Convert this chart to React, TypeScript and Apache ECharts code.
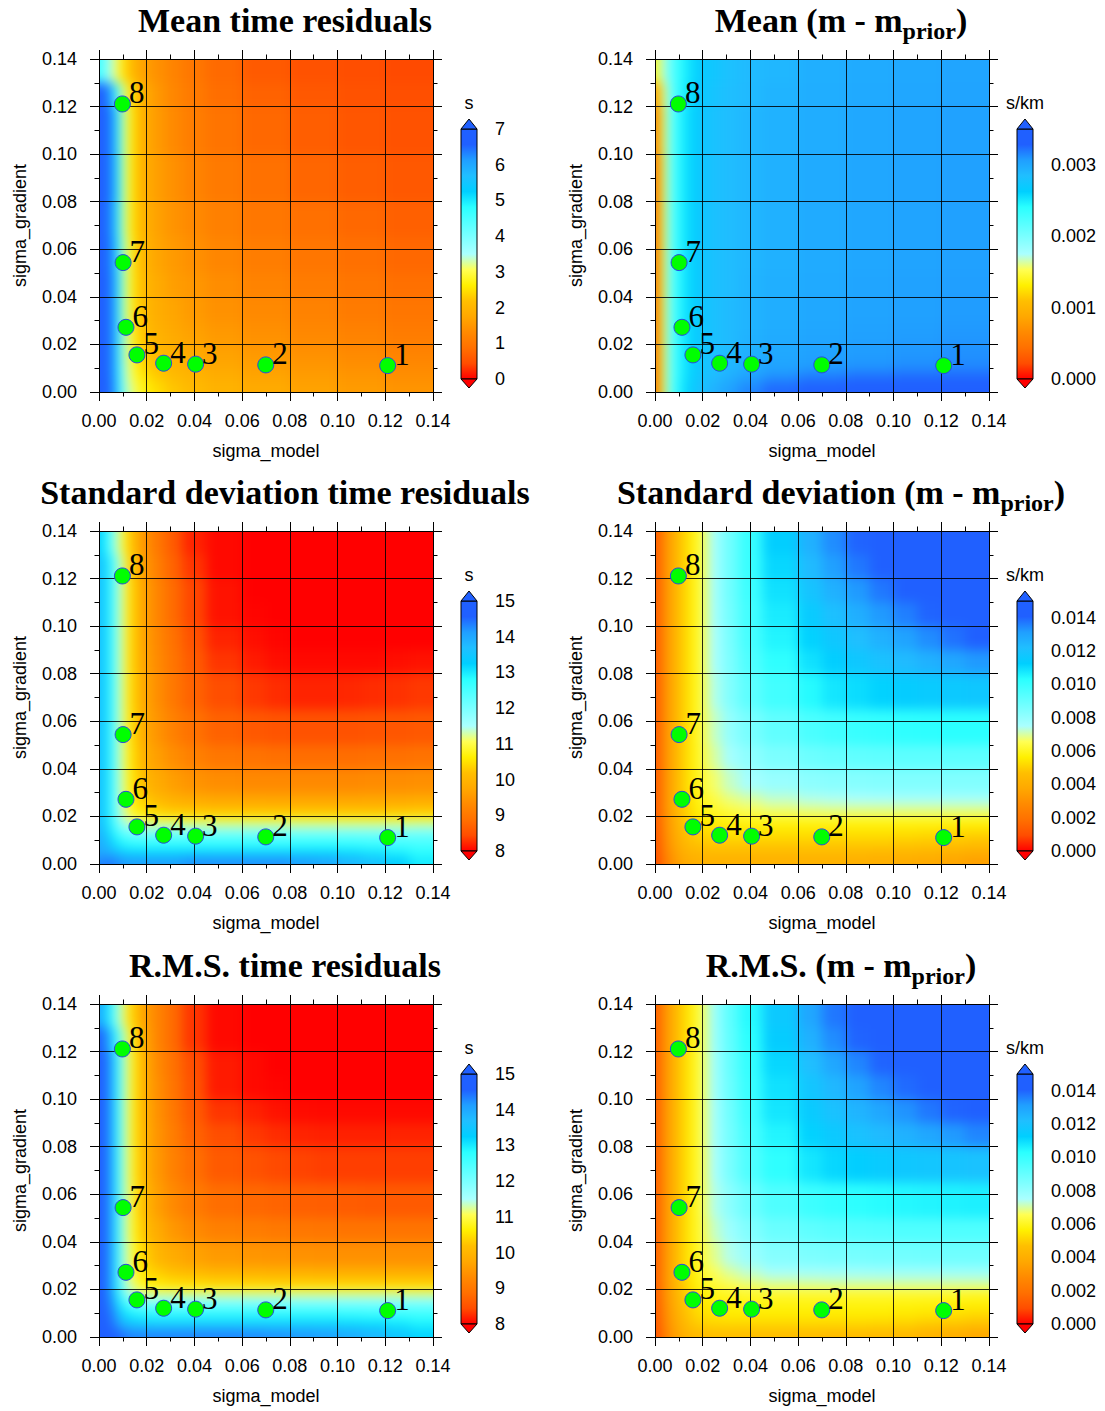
import React, { useEffect, useRef } from 'react';
import * as echarts from 'echarts';

// ---------- data ----------
// cell edges of the sampled grids (sigma_model along x, sigma_gradient along y listed top -> bottom)
const xEdgesCoarse = [0, 0.002, 0.004, 0.006, 0.008, 0.010, 0.012, 0.015, 0.018, 0.022, 0.028, 0.035, 0.045, 0.06, 0.08, 0.10, 0.12, 0.14];
const yEdgesCoarse = [0.14, 0.13, 0.12, 0.10, 0.08, 0.065, 0.05, 0.04, 0.03, 0.025, 0.021, 0.018, 0.015, 0.012, 0.009, 0.006, 0.003, 0];
const xEdgesFine = [0, 0.002, 0.004, 0.006, 0.008, 0.010, 0.012, 0.015, 0.018, 0.022, 0.028, 0.035, 0.045, 0.06, 0.07, 0.08, 0.09, 0.10, 0.11, 0.12, 0.13, 0.14];
const yEdgesFine = [0.14, 0.13, 0.12, 0.11, 0.10, 0.09, 0.08, 0.065, 0.05, 0.04, 0.03, 0.025, 0.021, 0.018, 0.015, 0.012, 0.009, 0.006, 0.003, 0];

// Mean time residuals (s) — coarse grid
const meanTime = [
  [4.6, 3.9, 3.5, 3.1, 2.8, 2.4, 2.1, 1.8, 1.6, 1.4, 1.2, 1.0, 0.8, 0.6, 0.5, 0.45, 0.42],
  [7.0, 6.8, 6.0, 4.8, 3.8, 3.0, 2.5, 2.1, 1.8, 1.5, 1.25, 1.05, 0.85, 0.7, 0.58, 0.5, 0.46],
  [7.0, 7.0, 6.4, 5.2, 4.1, 3.2, 2.6, 2.1, 1.8, 1.55, 1.3, 1.1, 0.95, 0.78, 0.65, 0.55, 0.5],
  [7.0, 7.0, 6.4, 5.3, 4.2, 3.2, 2.6, 2.1, 1.85, 1.6, 1.4, 1.2, 1.05, 0.9, 0.75, 0.65, 0.58],
  [7.0, 7.0, 6.3, 5.2, 4.1, 3.2, 2.6, 2.15, 1.9, 1.65, 1.45, 1.3, 1.15, 1.0, 0.88, 0.77, 0.68],
  [7.0, 7.0, 6.4, 5.3, 4.2, 3.3, 2.7, 2.2, 1.95, 1.7, 1.55, 1.4, 1.25, 1.1, 0.98, 0.87, 0.78],
  [7.0, 7.0, 6.5, 5.4, 4.3, 3.3, 2.7, 2.25, 2.0, 1.8, 1.6, 1.5, 1.35, 1.2, 1.08, 0.97, 0.88],
  [7.0, 7.0, 6.5, 5.4, 4.3, 3.3, 2.75, 2.3, 2.05, 1.85, 1.7, 1.55, 1.42, 1.3, 1.17, 1.06, 0.97],
  [7.0, 7.0, 6.5, 5.4, 4.3, 3.4, 2.8, 2.35, 2.1, 1.9, 1.75, 1.62, 1.5, 1.37, 1.25, 1.14, 1.05],
  [7.0, 7.0, 6.5, 5.4, 4.3, 3.4, 2.8, 2.4, 2.15, 1.95, 1.8, 1.68, 1.55, 1.42, 1.3, 1.2, 1.1],
  [7.0, 7.0, 6.5, 5.4, 4.3, 3.4, 2.85, 2.45, 2.2, 2.0, 1.85, 1.72, 1.6, 1.47, 1.35, 1.25, 1.15],
  [7.0, 7.0, 6.5, 5.4, 4.3, 3.4, 2.9, 2.5, 2.25, 2.05, 1.9, 1.77, 1.65, 1.52, 1.4, 1.3, 1.2],
  [7.0, 7.0, 6.5, 5.4, 4.3, 3.4, 2.9, 2.55, 2.3, 2.1, 1.95, 1.82, 1.7, 1.57, 1.45, 1.35, 1.25],
  [7.0, 7.0, 6.5, 5.4, 4.3, 3.5, 3.0, 2.6, 2.35, 2.15, 2.0, 1.87, 1.75, 1.62, 1.5, 1.4, 1.3],
  [7.0, 7.0, 6.5, 5.4, 4.4, 3.5, 3.0, 2.7, 2.45, 2.25, 2.08, 1.95, 1.82, 1.68, 1.56, 1.46, 1.36],
  [7.0, 7.0, 6.6, 5.5, 4.4, 3.6, 3.1, 2.8, 2.55, 2.35, 2.17, 2.02, 1.9, 1.75, 1.62, 1.52, 1.42],
  [7.0, 7.0, 6.6, 5.6, 4.5, 3.7, 3.2, 2.9, 2.65, 2.45, 2.25, 2.1, 1.95, 1.8, 1.68, 1.58, 1.48],
];

// Mean (m - m_prior), in units of 0.001 s/km — coarse grid
const meanModelMilli = [
  [1.4, 1.7, 1.95, 2.15, 2.3, 2.4, 2.5, 2.6, 2.68, 2.75, 2.82, 2.87, 2.9, 2.95, 2.98, 3.0, 3.02],
  [0.8, 1.45, 1.85, 2.12, 2.3, 2.42, 2.52, 2.62, 2.7, 2.78, 2.84, 2.88, 2.92, 2.96, 2.99, 3.01, 3.03],
  [0.6, 1.35, 1.85, 2.14, 2.32, 2.44, 2.55, 2.64, 2.72, 2.8, 2.85, 2.9, 2.93, 2.97, 3.0, 3.02, 3.04],
  [0.5, 1.3, 1.85, 2.15, 2.33, 2.45, 2.56, 2.65, 2.73, 2.81, 2.86, 2.9, 2.94, 2.98, 3.01, 3.03, 3.05],
  [0.5, 1.3, 1.85, 2.15, 2.33, 2.45, 2.56, 2.65, 2.73, 2.81, 2.86, 2.9, 2.94, 2.98, 3.01, 3.03, 3.05],
  [0.5, 1.3, 1.85, 2.15, 2.33, 2.45, 2.56, 2.65, 2.73, 2.81, 2.86, 2.9, 2.94, 2.98, 3.01, 3.03, 3.05],
  [0.5, 1.3, 1.85, 2.15, 2.33, 2.45, 2.56, 2.65, 2.73, 2.81, 2.86, 2.91, 2.95, 2.99, 3.02, 3.04, 3.06],
  [0.5, 1.3, 1.85, 2.15, 2.33, 2.45, 2.56, 2.65, 2.73, 2.81, 2.87, 2.92, 2.96, 3.0, 3.03, 3.05, 3.07],
  [0.5, 1.3, 1.85, 2.15, 2.33, 2.45, 2.56, 2.65, 2.73, 2.81, 2.87, 2.92, 2.97, 3.01, 3.04, 3.06, 3.08],
  [0.5, 1.3, 1.85, 2.15, 2.33, 2.45, 2.56, 2.65, 2.73, 2.81, 2.87, 2.93, 2.98, 3.02, 3.05, 3.07, 3.09],
  [0.5, 1.3, 1.85, 2.15, 2.33, 2.45, 2.56, 2.65, 2.73, 2.82, 2.88, 2.94, 2.99, 3.03, 3.06, 3.08, 3.1],
  [0.5, 1.3, 1.85, 2.15, 2.33, 2.45, 2.56, 2.65, 2.73, 2.82, 2.88, 2.94, 3.0, 3.04, 3.07, 3.09, 3.11],
  [0.5, 1.3, 1.85, 2.15, 2.33, 2.45, 2.56, 2.65, 2.74, 2.83, 2.89, 2.95, 3.01, 3.05, 3.08, 3.1, 3.12],
  [0.5, 1.3, 1.85, 2.15, 2.33, 2.45, 2.56, 2.65, 2.74, 2.83, 2.9, 2.97, 3.03, 3.07, 3.1, 3.12, 3.14],
  [0.5, 1.3, 1.85, 2.15, 2.33, 2.45, 2.57, 2.66, 2.76, 2.85, 2.93, 3.01, 3.08, 3.14, 3.18, 3.21, 3.23],
  [0.5, 1.3, 1.85, 2.15, 2.34, 2.46, 2.59, 2.69, 2.79, 2.89, 2.99, 3.08, 3.17, 3.24, 3.29, 3.32, 3.34],
  [0.5, 1.3, 1.85, 2.16, 2.35, 2.48, 2.61, 2.72, 2.83, 2.94, 3.05, 3.15, 3.25, 3.33, 3.39, 3.43, 3.46],
];

// Standard deviation time residuals (s) — fine grid
const stdTime = [
  [13.3, 12.8, 12.2, 11.6, 11.1, 10.7, 10.2, 9.8, 9.4, 9.0, 8.6, 8.2, 8.05, 8.0, 8.0, 8.0, 8.0, 8.0, 8.0, 8.0, 8.0],
  [13.6, 13.2, 12.6, 12.0, 11.4, 10.9, 10.3, 9.9, 9.5, 9.1, 8.7, 8.3, 8.05, 8.0, 8.0, 8.0, 8.0, 8.0, 8.0, 8.0, 8.0],
  [13.6, 13.2, 12.6, 12.0, 11.4, 10.9, 10.4, 10.0, 9.6, 9.2, 8.8, 8.4, 8.1, 8.0, 8.0, 8.0, 8.0, 8.0, 8.0, 8.0, 8.0],
  [13.6, 13.2, 12.6, 12.0, 11.4, 10.9, 10.4, 10.0, 9.6, 9.2, 8.8, 8.4, 8.1, 8.02, 8.0, 8.0, 8.0, 8.0, 8.0, 8.0, 8.0],
  [13.6, 13.2, 12.6, 12.0, 11.4, 10.9, 10.4, 10.0, 9.6, 9.25, 8.9, 8.5, 8.2, 8.08, 8.03, 8.0, 8.0, 8.0, 8.0, 8.0, 8.0],
  [13.6, 13.2, 12.6, 12.0, 11.4, 10.9, 10.4, 10.0, 9.65, 9.3, 8.95, 8.6, 8.3, 8.15, 8.08, 8.05, 8.05, 8.05, 8.05, 8.08, 8.1],
  [13.6, 13.2, 12.6, 12.0, 11.4, 10.9, 10.45, 10.05, 9.7, 9.35, 9.0, 8.7, 8.45, 8.32, 8.25, 8.2, 8.2, 8.22, 8.25, 8.28, 8.32],
  [13.6, 13.2, 12.6, 12.0, 11.4, 10.9, 10.5, 10.1, 9.75, 9.45, 9.15, 8.9, 8.7, 8.58, 8.52, 8.5, 8.5, 8.5, 8.52, 8.55, 8.58],
  [13.6, 13.2, 12.6, 12.0, 11.4, 10.95, 10.55, 10.2, 9.85, 9.6, 9.35, 9.15, 9.0, 8.92, 8.88, 8.85, 8.85, 8.85, 8.87, 8.9, 8.93],
  [13.6, 13.2, 12.6, 12.0, 11.45, 11.0, 10.6, 10.3, 10.0, 9.8, 9.6, 9.45, 9.35, 9.3, 9.3, 9.3, 9.3, 9.3, 9.32, 9.35, 9.38],
  [13.6, 13.2, 12.6, 12.0, 11.5, 11.05, 10.7, 10.45, 10.25, 10.05, 9.9, 9.8, 9.75, 9.72, 9.7, 9.7, 9.7, 9.7, 9.72, 9.75, 9.78],
  [13.6, 13.2, 12.6, 12.05, 11.55, 11.1, 10.8, 10.6, 10.45, 10.3, 10.2, 10.15, 10.1, 10.1, 10.1, 10.1, 10.1, 10.1, 10.1, 10.15, 10.18],
  [13.6, 13.2, 12.7, 12.1, 11.65, 11.25, 11.0, 10.85, 10.75, 10.7, 10.65, 10.62, 10.6, 10.6, 10.6, 10.6, 10.6, 10.6, 10.6, 10.65, 10.68],
  [13.7, 13.3, 12.8, 12.3, 11.9, 11.6, 11.45, 11.35, 11.3, 11.3, 11.3, 11.3, 11.3, 11.3, 11.3, 11.3, 11.3, 11.3, 11.3, 11.32, 11.35],
  [13.8, 13.4, 13.0, 12.6, 12.3, 12.1, 12.0, 11.95, 11.95, 11.95, 11.95, 11.95, 11.95, 11.95, 11.95, 11.95, 11.95, 11.95, 11.95, 11.97, 12.0],
  [13.9, 13.6, 13.2, 12.9, 12.7, 12.55, 12.5, 12.45, 12.45, 12.45, 12.45, 12.45, 12.45, 12.45, 12.45, 12.45, 12.45, 12.45, 12.42, 12.38, 12.35],
  [14.0, 13.8, 13.5, 13.2, 13.0, 12.9, 12.85, 12.8, 12.8, 12.8, 12.8, 12.8, 12.8, 12.8, 12.8, 12.8, 12.8, 12.75, 12.7, 12.65, 12.6],
  [13.9, 13.9, 13.8, 13.6, 13.5, 13.4, 13.35, 13.3, 13.3, 13.3, 13.3, 13.35, 13.4, 13.4, 13.4, 13.35, 13.3, 13.2, 13.1, 12.95, 12.8],
  [14.3, 14.4, 14.4, 14.3, 14.2, 14.1, 14.1, 14.1, 14.1, 14.1, 14.1, 14.2, 14.2, 14.2, 14.2, 14.1, 14.0, 13.8, 13.6, 13.3, 13.0],
];

// Standard deviation (m - m_prior), in units of 0.001 s/km — fine grid
const stdModelMilli = [
  [1.2, 2.6, 3.3, 3.8, 4.3, 4.8, 5.3, 5.8, 6.5, 7.6, 8.8, 10.0, 11.3, 12.6, 13.4, 14.0, 14.4, 14.5, 14.5, 14.5, 14.5],
  [1.2, 2.6, 3.3, 3.8, 4.3, 4.8, 5.3, 5.8, 6.5, 7.6, 8.8, 10.0, 11.1, 12.3, 13.1, 13.7, 14.2, 14.4, 14.5, 14.5, 14.5],
  [1.2, 2.6, 3.3, 3.8, 4.3, 4.8, 5.3, 5.8, 6.5, 7.6, 8.8, 9.9, 10.9, 11.9, 12.6, 13.2, 13.7, 14.1, 14.4, 14.5, 14.5],
  [1.2, 2.6, 3.3, 3.8, 4.3, 4.8, 5.3, 5.8, 6.5, 7.6, 8.7, 9.8, 10.7, 11.5, 12.1, 12.7, 13.2, 13.6, 14.0, 14.3, 14.5],
  [1.2, 2.6, 3.3, 3.8, 4.3, 4.8, 5.3, 5.8, 6.5, 7.5, 8.6, 9.7, 10.5, 11.2, 11.7, 12.2, 12.6, 13.0, 13.4, 13.8, 14.1],
  [1.2, 2.6, 3.3, 3.8, 4.3, 4.8, 5.3, 5.8, 6.5, 7.5, 8.5, 9.5, 10.2, 10.9, 11.3, 11.7, 12.0, 12.3, 12.6, 12.9, 13.2],
  [1.2, 2.6, 3.3, 3.8, 4.3, 4.8, 5.3, 5.8, 6.4, 7.4, 8.4, 9.2, 9.8, 10.4, 10.8, 11.0, 11.2, 11.4, 11.5, 11.6, 11.7],
  [1.2, 2.6, 3.3, 3.8, 4.3, 4.8, 5.3, 5.8, 6.4, 7.2, 8.0, 8.6, 9.1, 9.6, 9.8, 10.0, 10.1, 10.2, 10.25, 10.3, 10.3],
  [1.2, 2.6, 3.3, 3.8, 4.3, 4.8, 5.3, 5.8, 6.3, 7.0, 7.6, 8.1, 8.5, 8.85, 9.0, 9.1, 9.15, 9.2, 9.2, 9.2, 9.2],
  [1.2, 2.6, 3.3, 3.8, 4.3, 4.8, 5.3, 5.7, 6.2, 6.7, 7.2, 7.6, 7.9, 8.15, 8.25, 8.3, 8.35, 8.4, 8.4, 8.4, 8.4],
  [1.2, 2.6, 3.3, 3.8, 4.3, 4.8, 5.2, 5.6, 6.0, 6.4, 6.8, 7.0, 7.25, 7.4, 7.45, 7.5, 7.55, 7.6, 7.6, 7.6, 7.6],
  [1.2, 2.6, 3.3, 3.8, 4.3, 4.7, 5.1, 5.5, 5.8, 6.1, 6.4, 6.6, 6.75, 6.85, 6.9, 6.9, 6.9, 6.9, 6.9, 6.9, 6.9],
  [1.2, 2.5, 3.2, 3.7, 4.2, 4.6, 5.0, 5.4, 5.6, 5.8, 6.0, 6.1, 6.15, 6.2, 6.2, 6.2, 6.2, 6.2, 6.2, 6.15, 6.1],
  [1.2, 2.5, 3.2, 3.7, 4.1, 4.5, 4.9, 5.2, 5.4, 5.5, 5.6, 5.7, 5.7, 5.7, 5.7, 5.7, 5.7, 5.7, 5.7, 5.65, 5.6],
  [1.1, 2.4, 3.1, 3.6, 4.0, 4.4, 4.8, 5.0, 5.2, 5.3, 5.4, 5.4, 5.4, 5.4, 5.4, 5.4, 5.4, 5.35, 5.3, 5.25, 5.2],
  [1.1, 2.4, 3.0, 3.5, 3.9, 4.3, 4.6, 4.8, 5.0, 5.1, 5.1, 5.1, 5.1, 5.1, 5.1, 5.1, 5.1, 5.05, 5.0, 4.9, 4.8],
  [1.0, 2.3, 2.9, 3.4, 3.8, 4.1, 4.4, 4.6, 4.7, 4.8, 4.8, 4.8, 4.8, 4.8, 4.8, 4.8, 4.8, 4.75, 4.7, 4.6, 4.5],
  [1.0, 2.2, 2.8, 3.2, 3.6, 3.9, 4.2, 4.3, 4.4, 4.4, 4.4, 4.4, 4.4, 4.4, 4.4, 4.35, 4.3, 4.25, 4.2, 4.05, 3.9],
  [0.9, 2.0, 2.6, 3.0, 3.4, 3.7, 3.9, 4.0, 4.1, 4.1, 4.1, 4.1, 4.1, 4.1, 4.1, 4.05, 4.0, 3.9, 3.8, 3.65, 3.5],
];

// R.M.S. time residuals (s) — fine grid
const rmsTime = [
  [14.0, 13.3, 12.6, 12.0, 11.4, 10.9, 10.4, 10.0, 9.6, 9.2, 8.8, 8.3, 8.05, 8.0, 8.0, 8.0, 8.0, 8.0, 8.0, 8.0, 8.0],
  [14.6, 14.3, 13.6, 12.8, 12.0, 11.3, 10.7, 10.2, 9.7, 9.2, 8.8, 8.3, 8.05, 8.0, 8.0, 8.0, 8.0, 8.0, 8.0, 8.0, 8.0],
  [14.8, 14.6, 14.0, 13.0, 12.1, 11.4, 10.8, 10.3, 9.8, 9.3, 8.9, 8.45, 8.15, 8.05, 8.0, 8.0, 8.0, 8.0, 8.0, 8.0, 8.0],
  [14.8, 14.6, 14.0, 13.0, 12.1, 11.4, 10.8, 10.3, 9.8, 9.35, 8.95, 8.5, 8.15, 8.05, 8.02, 8.0, 8.0, 8.0, 8.0, 8.0, 8.0],
  [14.8, 14.6, 14.0, 13.0, 12.1, 11.4, 10.8, 10.3, 9.85, 9.4, 9.0, 8.6, 8.3, 8.18, 8.1, 8.06, 8.05, 8.05, 8.05, 8.05, 8.05],
  [14.8, 14.6, 14.0, 13.0, 12.1, 11.4, 10.8, 10.3, 9.88, 9.45, 9.08, 8.7, 8.45, 8.32, 8.25, 8.2, 8.18, 8.18, 8.18, 8.2, 8.2],
  [14.8, 14.6, 14.0, 13.0, 12.1, 11.4, 10.85, 10.35, 9.9, 9.5, 9.15, 8.85, 8.6, 8.5, 8.42, 8.38, 8.35, 8.35, 8.35, 8.35, 8.35],
  [14.8, 14.6, 14.0, 13.0, 12.1, 11.4, 10.9, 10.4, 10.0, 9.6, 9.3, 9.05, 8.85, 8.78, 8.72, 8.68, 8.65, 8.62, 8.6, 8.6, 8.6],
  [14.8, 14.6, 14.0, 13.0, 12.1, 11.4, 10.9, 10.5, 10.1, 9.8, 9.5, 9.3, 9.15, 9.08, 9.03, 9.0, 8.97, 8.95, 8.95, 8.95, 8.95],
  [14.8, 14.6, 14.0, 13.0, 12.1, 11.45, 11.0, 10.6, 10.3, 10.0, 9.8, 9.65, 9.55, 9.48, 9.45, 9.42, 9.4, 9.4, 9.4, 9.4, 9.4],
  [14.8, 14.6, 14.0, 13.0, 12.15, 11.5, 11.05, 10.7, 10.45, 10.3, 10.15, 10.05, 9.95, 9.92, 9.9, 9.88, 9.86, 9.85, 9.85, 9.85, 9.85],
  [14.8, 14.6, 14.0, 13.0, 12.2, 11.6, 11.15, 10.85, 10.65, 10.55, 10.45, 10.4, 10.35, 10.32, 10.3, 10.3, 10.3, 10.3, 10.3, 10.3, 10.3],
  [14.8, 14.6, 14.0, 13.1, 12.3, 11.7, 11.35, 11.1, 10.95, 10.9, 10.85, 10.8, 10.8, 10.8, 10.8, 10.8, 10.8, 10.8, 10.8, 10.8, 10.8],
  [14.8, 14.6, 14.1, 13.3, 12.6, 12.1, 11.8, 11.65, 11.55, 11.5, 11.5, 11.5, 11.5, 11.5, 11.5, 11.5, 11.5, 11.5, 11.5, 11.5, 11.5],
  [14.8, 14.7, 14.3, 13.6, 13.0, 12.6, 12.35, 12.2, 12.15, 12.1, 12.1, 12.1, 12.1, 12.1, 12.1, 12.1, 12.1, 12.1, 12.1, 12.1, 12.1],
  [14.8, 14.7, 14.4, 13.9, 13.4, 13.0, 12.8, 12.7, 12.65, 12.6, 12.6, 12.6, 12.6, 12.6, 12.6, 12.6, 12.6, 12.58, 12.55, 12.52, 12.5],
  [14.8, 14.7, 14.5, 14.1, 13.7, 13.4, 13.2, 13.1, 13.05, 13.0, 13.0, 13.0, 13.0, 13.0, 13.0, 13.0, 13.0, 12.95, 12.9, 12.85, 12.8],
  [14.8, 14.8, 14.6, 14.3, 14.0, 13.8, 13.7, 13.6, 13.6, 13.6, 13.6, 13.6, 13.6, 13.57, 13.55, 13.52, 13.5, 13.4, 13.3, 13.15, 13.0],
  [14.8, 14.8, 14.8, 14.6, 14.5, 14.4, 14.3, 14.3, 14.3, 14.3, 14.3, 14.3, 14.3, 14.25, 14.2, 14.15, 14.1, 13.95, 13.8, 13.5, 13.2],
];

// R.M.S. (m - m_prior), in units of 0.001 s/km — fine grid
const rmsModelMilli = [
  [1.3, 2.7, 3.4, 3.9, 4.4, 4.9, 5.4, 5.9, 6.6, 7.8, 9.2, 10.4, 11.6, 12.9, 13.7, 14.3, 14.6, 14.7, 14.7, 14.7, 14.7],
  [1.3, 2.7, 3.4, 3.9, 4.4, 4.9, 5.4, 5.9, 6.6, 7.8, 9.1, 10.3, 11.4, 12.6, 13.4, 14.0, 14.4, 14.6, 14.7, 14.7, 14.7],
  [1.3, 2.7, 3.4, 3.9, 4.4, 4.9, 5.4, 5.9, 6.6, 7.7, 9.0, 10.1, 11.1, 12.2, 12.9, 13.5, 14.0, 14.4, 14.6, 14.7, 14.7],
  [1.3, 2.7, 3.4, 3.9, 4.4, 4.9, 5.4, 5.9, 6.6, 7.7, 8.9, 10.0, 10.9, 11.8, 12.4, 13.0, 13.5, 13.9, 14.2, 14.5, 14.6],
  [1.3, 2.7, 3.4, 3.9, 4.4, 4.9, 5.4, 5.9, 6.6, 7.6, 8.8, 9.9, 10.8, 11.5, 12.0, 12.5, 12.9, 13.3, 13.7, 14.0, 14.3],
  [1.3, 2.7, 3.4, 3.9, 4.4, 4.9, 5.4, 5.9, 6.6, 7.6, 8.7, 9.7, 10.5, 11.2, 11.6, 12.0, 12.3, 12.6, 12.9, 13.2, 13.5],
  [1.3, 2.7, 3.4, 3.9, 4.4, 4.9, 5.4, 5.9, 6.5, 7.5, 8.6, 9.5, 10.2, 10.8, 11.1, 11.3, 11.5, 11.7, 11.8, 11.9, 12.0],
  [1.3, 2.7, 3.4, 3.9, 4.4, 4.9, 5.4, 5.9, 6.5, 7.4, 8.2, 8.9, 9.5, 9.9, 10.1, 10.25, 10.35, 10.45, 10.5, 10.55, 10.6],
  [1.3, 2.7, 3.4, 3.9, 4.4, 4.9, 5.4, 5.9, 6.4, 7.2, 7.8, 8.4, 8.9, 9.15, 9.3, 9.4, 9.45, 9.5, 9.5, 9.5, 9.5],
  [1.3, 2.7, 3.4, 3.9, 4.4, 4.9, 5.4, 5.8, 6.3, 6.9, 7.4, 7.9, 8.3, 8.5, 8.6, 8.65, 8.7, 8.75, 8.8, 8.8, 8.8],
  [1.3, 2.7, 3.4, 3.9, 4.4, 4.9, 5.3, 5.7, 6.2, 6.6, 7.0, 7.3, 7.6, 7.7, 7.72, 7.75, 7.8, 7.8, 7.8, 7.8, 7.8],
  [1.3, 2.7, 3.4, 3.9, 4.4, 4.8, 5.2, 5.6, 6.0, 6.3, 6.6, 6.8, 7.0, 7.05, 7.1, 7.1, 7.1, 7.1, 7.1, 7.1, 7.1],
  [1.3, 2.6, 3.3, 3.8, 4.3, 4.7, 5.1, 5.5, 5.8, 6.0, 6.2, 6.3, 6.4, 6.4, 6.4, 6.4, 6.4, 6.4, 6.4, 6.35, 6.3],
  [1.3, 2.6, 3.3, 3.8, 4.2, 4.6, 5.0, 5.4, 5.6, 5.8, 5.9, 6.0, 6.0, 6.0, 6.0, 6.0, 6.0, 6.0, 6.0, 5.95, 5.9],
  [1.2, 2.5, 3.2, 3.7, 4.1, 4.5, 4.9, 5.2, 5.5, 5.6, 5.7, 5.8, 5.8, 5.8, 5.8, 5.8, 5.8, 5.75, 5.7, 5.65, 5.6],
  [1.2, 2.5, 3.1, 3.6, 4.0, 4.4, 4.8, 5.1, 5.4, 5.5, 5.6, 5.6, 5.6, 5.6, 5.6, 5.6, 5.6, 5.55, 5.5, 5.4, 5.3],
  [1.1, 2.4, 3.0, 3.5, 3.9, 4.3, 4.7, 5.0, 5.2, 5.3, 5.4, 5.4, 5.4, 5.4, 5.4, 5.4, 5.35, 5.3, 5.2, 5.1, 5.0],
  [1.1, 2.3, 2.9, 3.4, 3.8, 4.1, 4.5, 4.8, 4.9, 5.0, 5.0, 5.0, 5.0, 5.0, 5.0, 5.0, 4.95, 4.9, 4.7, 4.55, 4.4],
  [1.0, 2.1, 2.7, 3.2, 3.6, 3.9, 4.2, 4.4, 4.5, 4.6, 4.6, 4.6, 4.6, 4.55, 4.5, 4.5, 4.45, 4.4, 4.2, 4.0, 3.8],
];

// marked parameter pairs
const sigmaModel = [0.121, 0.0699, 0.0405, 0.0271, 0.0159, 0.0113, 0.0101, 0.0098];
const sigmaGradient = [0.0111, 0.0114, 0.0117, 0.0121, 0.0156, 0.0272, 0.0544, 0.1211];
const pointLabels = ['1', '2', '3', '4', '5', '6', '7', '8'];

// colour-bar ranges and tick labels
const rangeMeanTime = [0, 7];
const rangeMeanModel = [0, 0.0035];
const rangeStdTime = [8, 15];
const rangeModelSpread = [0, 0.015];
const ticksMeanTime = [0, 1, 2, 3, 4, 5, 6, 7];
const ticksMeanModel = [0, 0.001, 0.002, 0.003];
const ticksTimeSpread = [8, 9, 10, 11, 12, 13, 14, 15];
const ticksModelSpread = [0, 0.002, 0.004, 0.006, 0.008, 0.010, 0.012, 0.014];

const axisTicks = [0, 0.02, 0.04, 0.06, 0.08, 0.10, 0.12, 0.14];

// ---------- styling / layout ----------
const W = 1105;
const H = 1411;
const colX = [99, 655];
const rowY = [59, 531, 1004];
const plotW = 334;
const plotH = 333;
const cbDX = 362;
const cbDY = 70;
const cbW = 16;
const cbH = 250;
const SANS = 'Liberation Sans';
const SERIF = 'Liberation Serif';

const cmap = ['#ff0000', '#ff4d00', '#ff7000', '#ff8a00', '#ffa800', '#ffbf00', '#fff000', '#ffff54',
  '#aaffff', '#7fffff', '#55ffff', '#2affff', '#00cfff', '#20bfff', '#209fff', '#2060ff', '#2060ff'];
const gradStops = cmap.map((c, i) => ({ offset: i / (cmap.length - 1), color: c }));

const panels = [
  { title: ['Mean time residuals', '', ''], unit: 's', matrix: meanTime, xe: xEdgesCoarse, ye: yEdgesCoarse, scale: 1, range: rangeMeanTime, ticks: ticksMeanTime, dec: 0 },
  { title: ['Mean (m - m', 'prior', ')'], unit: 's/km', matrix: meanModelMilli, xe: xEdgesCoarse, ye: yEdgesCoarse, scale: 1000, range: rangeMeanModel, ticks: ticksMeanModel, dec: 3 },
  { title: ['Standard deviation time residuals', '', ''], unit: 's', matrix: stdTime, xe: xEdgesFine, ye: yEdgesFine, scale: 1, range: rangeStdTime, ticks: ticksTimeSpread, dec: 0 },
  { title: ['Standard deviation (m - m', 'prior', ')'], unit: 's/km', matrix: stdModelMilli, xe: xEdgesFine, ye: yEdgesFine, scale: 1000, range: rangeModelSpread, ticks: ticksModelSpread, dec: 3 },
  { title: ['R.M.S. time residuals', '', ''], unit: 's', matrix: rmsTime, xe: xEdgesFine, ye: yEdgesFine, scale: 1, range: rangeStdTime, ticks: ticksTimeSpread, dec: 0 },
  { title: ['R.M.S. (m - m', 'prior', ')'], unit: 's/km', matrix: rmsModelMilli, xe: xEdgesFine, ye: yEdgesFine, scale: 1000, range: rangeModelSpread, ticks: ticksModelSpread, dec: 3 },
];

const panelPos = (i: number) => ({ left: colX[i % 2], top: rowY[Math.floor(i / 2)] });

const X_MIN = 0;
const X_MAX = 0.14;
const Y_MIN = 0;
const Y_MAX = 0.14;

function cellData(matrix: number[][], xe: number[], ye: number[], scale: number) {
  const out: number[][] = [];
  for (let r = 0; r < ye.length - 1; r++) {
    for (let c = 0; c < xe.length - 1; c++) {
      out.push([xe[c], xe[c + 1], ye[r + 1], ye[r], matrix[r][c] / scale]);
    }
  }
  return out;
}

const renderCell = (_params: any, api: any) => {
  const x0 = api.value(0), x1 = api.value(1), y0 = api.value(2), y1 = api.value(3);
  const tl = api.coord([x0, y1]);
  const br = api.coord([x1, y0]);
  let l = tl[0], t = tl[1], r = br[0], b = br[1];
  const ext = 30;
  if (x0 <= X_MIN) l -= ext;
  if (x1 >= X_MAX) r += ext;
  if (y0 <= Y_MIN) b += ext;
  if (y1 >= Y_MAX) t -= ext;
  return {
    type: 'rect',
    shape: { x: l, y: t, width: r - l + 0.8, height: b - t + 0.8 },
    style: { fill: api.visual('color') },
  };
};

const renderBar = (_params: any, api: any) => {
  const tl = api.coord([api.value(0), api.value(3)]);
  const br = api.coord([api.value(2), api.value(1)]);
  const l = tl[0], t = tl[1], r = br[0], b = br[1];
  const cx = (l + r) / 2;
  return {
    type: 'group',
    children: [
      {
        type: 'rect',
        shape: { x: l, y: t, width: r - l, height: b - t },
        style: { fill: { type: 'linear', x: 0, y: 1, x2: 0, y2: 0, colorStops: gradStops }, stroke: '#000', lineWidth: 1 },
      },
      { type: 'polygon', shape: { points: [[l, t], [r, t], [cx, t - 10]] }, style: { fill: cmap[cmap.length - 1], stroke: '#000', lineWidth: 1 } },
      { type: 'polygon', shape: { points: [[l, b], [r, b], [cx, b + 9]] }, style: { fill: cmap[0], stroke: '#000', lineWidth: 1 } },
    ],
  };
};

function heatOption() {
  return {
    animation: false,
    grid: panels.map((_, i) => ({ ...panelPos(i), width: plotW, height: plotH, containLabel: false, outerBoundsMode: 'none' })),
    xAxis: panels.map((_, i) => ({ type: 'value', gridIndex: i, min: X_MIN, max: X_MAX, show: false })),
    yAxis: panels.map((_, i) => ({ type: 'value', gridIndex: i, min: Y_MIN, max: Y_MAX, show: false })),
    visualMap: panels.map((p, i) => ({
      type: 'continuous', show: false, seriesIndex: i, dimension: 4,
      min: p.range[0], max: p.range[1], inRange: { color: cmap },
    })),
    series: panels.map((p, i) => ({
      type: 'custom', xAxisIndex: i, yAxisIndex: i, clip: false,
      encode: { x: [0, 1], y: [2, 3] },
      renderItem: renderCell,
      data: cellData(p.matrix, p.xe, p.ye, p.scale),
    })),
  };
}

function overlayOption() {
  const grids: any[] = [];
  const xAxes: any[] = [];
  const yAxes: any[] = [];
  const series: any[] = [];
  const graphics: any[] = [];
  const lineBlack = { color: '#000', width: 1 };
  const labelStyle = { color: '#000', fontSize: 18, fontFamily: SANS };

  panels.forEach((p, i) => {
    const pos = panelPos(i);
    grids.push({ ...pos, width: plotW, height: plotH, containLabel: false, outerBoundsMode: 'none' });
  });
  panels.forEach((p, i) => {
    const pos = panelPos(i);
    grids.push({ left: pos.left + cbDX, top: pos.top + cbDY, width: cbW, height: cbH, containLabel: false, outerBoundsMode: 'none' });
  });

  const base = (gi: number) => ({
    type: 'value', gridIndex: gi, min: X_MIN, max: X_MAX, interval: 0.02,
    axisLine: { show: true, onZero: false, lineStyle: lineBlack },
    axisTick: { show: true, inside: false, length: 9, lineStyle: lineBlack },
    minorTick: { show: true, splitNumber: 2, length: 4.5, lineStyle: lineBlack },
  });

  panels.forEach((p, i) => {
    xAxes.push({
      ...base(i), position: 'bottom',
      axisLabel: { ...labelStyle, margin: 20, customValues: axisTicks, formatter: (v: number) => v.toFixed(2) },
      splitLine: { show: true, lineStyle: { color: 'rgba(0,0,0,0.85)', width: 1 } },
      name: 'sigma_model', nameLocation: 'middle', nameGap: 50,
      nameTextStyle: { color: '#000', fontSize: 18, fontFamily: SANS },
    });
    xAxes.push({ ...base(i), position: 'top', axisLabel: { show: false }, splitLine: { show: false } });
    yAxes.push({
      ...base(i), min: Y_MIN, max: Y_MAX, position: 'left',
      axisLabel: { ...labelStyle, margin: 22, customValues: axisTicks, formatter: (v: number) => v.toFixed(2) },
      splitLine: { show: true, lineStyle: { color: 'rgba(0,0,0,0.85)', width: 1 } },
      name: 'sigma_gradient', nameLocation: 'middle', nameGap: 70, nameRotate: 90,
      nameTextStyle: { color: '#000', fontSize: 18, fontFamily: SANS },
    });
    yAxes.push({ ...base(i), min: Y_MIN, max: Y_MAX, position: 'right', axisLabel: { show: false }, splitLine: { show: false } });
  });

  panels.forEach((p, i) => {
    xAxes.push({ type: 'value', gridIndex: 6 + i, min: 0, max: 1, show: false });
    yAxes.push({
      type: 'value', gridIndex: 6 + i, min: p.range[0], max: p.range[1], position: 'right',
      axisLine: { show: false },
      axisTick: { show: true, inside: false, length: 8, lineStyle: lineBlack, customValues: p.ticks },
      axisLabel: { ...labelStyle, margin: 18, customValues: p.ticks, formatter: (v: number) => v.toFixed(p.dec) },
      splitLine: { show: false },
    });
  });

  panels.forEach((p, i) => {
    series.push({
      type: 'scatter', xAxisIndex: 2 * i, yAxisIndex: 2 * i, z: 5,
      symbol: 'circle', symbolSize: 16,
      itemStyle: { color: '#00ff00', borderColor: '#2a48e0', borderWidth: 1, opacity: 1 },
      label: {
        show: true, position: 'right', distance: 0, offset: [-2, -11],
        formatter: (d: any) => d.name, color: '#000', fontSize: 31, fontFamily: SERIF,
      },
      data: sigmaModel.map((x, k) => ({ name: pointLabels[k], value: [x, sigmaGradient[k]] })),
    });
  });

  panels.forEach((p, i) => {
    series.push({
      type: 'custom', xAxisIndex: 12 + i, yAxisIndex: 12 + i, clip: false, z: 3,
      encode: { x: [0, 2], y: [1, 3] },
      renderItem: renderBar,
      data: [[0, p.range[0], 1, p.range[1]]],
    });
  });

  panels.forEach((p, i) => {
    const pos = panelPos(i);
    const tx = pos.left + 186;
    const ty = pos.top - 39;
    const [main, sub, tail] = p.title;
    if (sub) {
      graphics.push({
        type: 'text', x: tx, y: ty, z: 10,
        style: {
          text: `{a|${main}}{b|${sub}}{a|${tail}}`,
          align: 'center', verticalAlign: 'middle', fill: '#000',
          rich: {
            a: { fontSize: 34, fontWeight: 'bold', fontFamily: SERIF, fill: '#000' },
            b: { fontSize: 24, fontWeight: 'bold', fontFamily: SERIF, fill: '#000', padding: [22, 0, 0, 0] },
          },
        },
      });
    } else {
      graphics.push({
        type: 'text', x: tx, y: ty, z: 10,
        style: { text: main, align: 'center', verticalAlign: 'middle', fill: '#000', fontSize: 34, fontWeight: 'bold', fontFamily: SERIF },
      });
    }
    graphics.push({
      type: 'text', x: pos.left + cbDX + cbW / 2, y: pos.top + 44, z: 10,
      style: { text: p.unit, align: 'center', verticalAlign: 'middle', fill: '#000', fontSize: 18, fontFamily: SANS },
    });
  });

  return { animation: false, grid: grids, xAxis: xAxes, yAxis: yAxes, series, graphic: graphics };
}

const clipPath = panels
  .map((_, i) => {
    const { left, top } = panelPos(i);
    return `M${left} ${top} H${left + plotW} V${top + plotH} H${left} Z`;
  })
  .join(' ');

export default function App() {
  const heatRef = useRef<HTMLDivElement>(null);
  const overRef = useRef<HTMLDivElement>(null);
  useEffect(() => {
    const h = echarts.init(heatRef.current as HTMLDivElement, null, { renderer: 'svg' });
    const o = echarts.init(overRef.current as HTMLDivElement, null, { renderer: 'svg' });
    h.setOption(heatOption() as any);
    o.setOption(overlayOption() as any);
    return () => {
      h.dispose();
      o.dispose();
    };
  }, []);
  return (
    <div style={{ position: 'absolute', left: 0, top: 0, width: W, height: H, background: '#fff', overflow: 'hidden' }}>
      <div
        ref={heatRef}
        style={{ position: 'absolute', left: 0, top: 0, width: W, height: H, filter: 'blur(6px)', clipPath: `path('${clipPath}')` }}
      />
      <div ref={overRef} style={{ position: 'absolute', left: 0, top: 0, width: W, height: H }} />
    </div>
  );
}
